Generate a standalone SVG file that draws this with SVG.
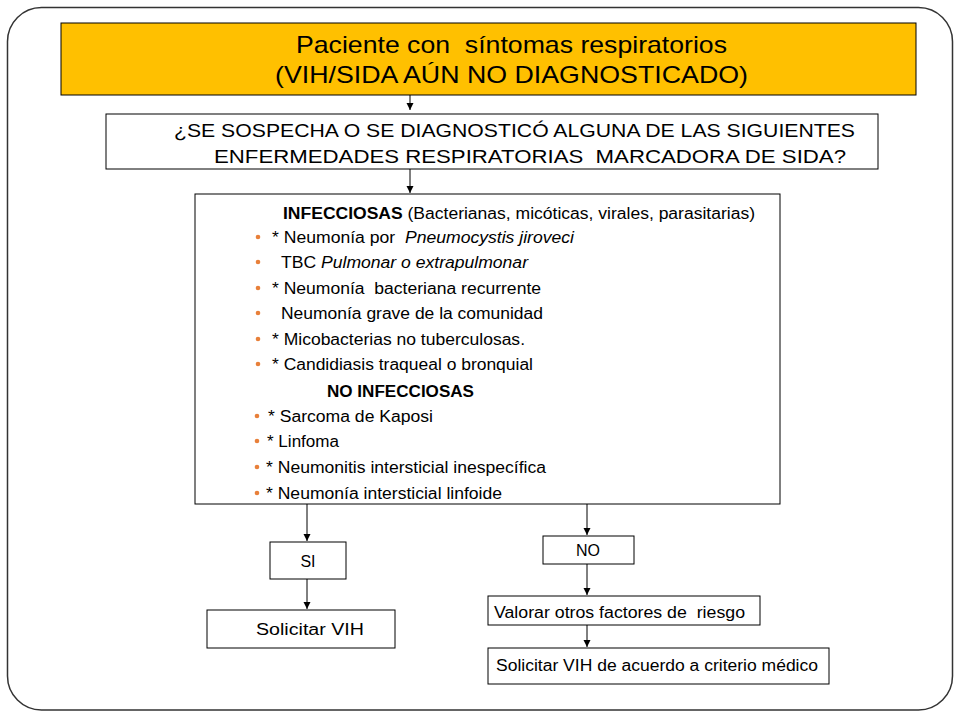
<svg xmlns="http://www.w3.org/2000/svg" width="960" height="720" viewBox="0 0 960 720">
<defs>
<marker id="ah" viewBox="0 0 10 10" refX="10" refY="5" markerWidth="7" markerHeight="9" markerUnits="userSpaceOnUse" orient="auto">
<path d="M0,0 L10,5 L0,10 Z" fill="#000"/>
</marker>
</defs>
<style>
text{font-family:"Liberation Sans",Arial,sans-serif;fill:#000;white-space:pre}
.box{fill:#fff;stroke:#000;stroke-width:1}
.t24{font-size:24px}
.t18{font-size:18px}
.t16{font-size:16px}
.b{font-weight:bold}
.i{font-style:italic}
.dot{fill:#E8803A}
.con line{stroke:#000;stroke-width:1;marker-end:url(#ah)}
</style>
<rect x="7.5" y="7.5" width="945" height="702.5" rx="34" ry="34" fill="#fff" stroke="#333" stroke-width="1.5"/>

<g id="n-paciente">
<rect x="61" y="23" width="855" height="72" fill="#FFC000" stroke="#000" stroke-width="1"/>
<text class="t24" x="296" y="53" textLength="431" lengthAdjust="spacingAndGlyphs">Paciente con  síntomas respiratorios</text>
<text class="t24" x="275" y="83" textLength="473" lengthAdjust="spacingAndGlyphs">(VIH/SIDA AÚN NO DIAGNOSTICADO)</text>
</g>

<g id="n-pregunta">
<rect class="box" x="106" y="114" width="772" height="55"/>
<text class="t18" x="174" y="137" textLength="681" lengthAdjust="spacingAndGlyphs">¿SE SOSPECHA O SE DIAGNOSTICÓ ALGUNA DE LAS SIGUIENTES</text>
<text class="t18" x="214" y="163" textLength="632" lengthAdjust="spacingAndGlyphs">ENFERMEDADES RESPIRATORIAS  MARCADORA DE SIDA?</text>
</g>

<g id="n-enfermedades">
<rect class="box" x="195" y="194" width="585" height="310"/>
<text class="t16" x="283" y="219" textLength="472" lengthAdjust="spacingAndGlyphs"><tspan class="b">INFECCIOSAS</tspan> (Bacterianas, micóticas, virales, parasitarias)</text>
<circle class="dot" cx="258" cy="237" r="2.3"/>
<text class="t16" x="272" y="243" textLength="302" lengthAdjust="spacingAndGlyphs">* Neumonía por  <tspan class="i">Pneumocystis jiroveci</tspan></text>
<circle class="dot" cx="258" cy="262" r="2.3"/>
<text class="t16" x="281" y="268" textLength="247" lengthAdjust="spacingAndGlyphs">TBC <tspan class="i">Pulmonar o extrapulmonar</tspan></text>
<circle class="dot" cx="258" cy="288" r="2.3"/>
<text class="t16" x="272" y="294" textLength="269" lengthAdjust="spacingAndGlyphs">* Neumonía  bacteriana recurrente</text>
<circle class="dot" cx="258" cy="313" r="2.3"/>
<text class="t16" x="281" y="319" textLength="262" lengthAdjust="spacingAndGlyphs">Neumonía grave de la comunidad</text>
<circle class="dot" cx="258" cy="339" r="2.3"/>
<text class="t16" x="272" y="345" textLength="253" lengthAdjust="spacingAndGlyphs">* Micobacterias no tuberculosas.</text>
<circle class="dot" cx="258" cy="364" r="2.3"/>
<text class="t16" x="272" y="370" textLength="261" lengthAdjust="spacingAndGlyphs">* Candidiasis traqueal o bronquial</text>
<text class="t16 b" x="327" y="397" textLength="147" lengthAdjust="spacingAndGlyphs">NO INFECCIOSAS</text>
<circle class="dot" cx="257" cy="416" r="2.3"/>
<text class="t16" x="268" y="422" textLength="165" lengthAdjust="spacingAndGlyphs">* Sarcoma de Kaposi</text>
<circle class="dot" cx="257" cy="441" r="2.3"/>
<text class="t16" x="267" y="447" textLength="72" lengthAdjust="spacingAndGlyphs">* Linfoma</text>
<circle class="dot" cx="257" cy="467" r="2.3"/>
<text class="t16" x="266" y="473" textLength="280" lengthAdjust="spacingAndGlyphs">* Neumonitis intersticial inespecífica</text>
<circle class="dot" cx="257" cy="493" r="2.3"/>
<text class="t16" x="266" y="499" textLength="236" lengthAdjust="spacingAndGlyphs">* Neumonía intersticial linfoide</text>
</g>

<g id="n-si">
<rect class="box" x="270" y="542" width="76" height="37"/>
<text class="t16" x="308" y="567" text-anchor="middle">SI</text>
</g>

<g id="n-solicitar">
<rect class="box" x="207" y="610" width="188" height="38"/>
<text class="t16" x="256" y="635" textLength="108" lengthAdjust="spacingAndGlyphs">Solicitar VIH</text>
</g>

<g id="n-no">
<rect class="box" x="543" y="536" width="91" height="28"/>
<text class="t16" x="588" y="556" text-anchor="middle">NO</text>
</g>

<g id="n-valorar">
<rect class="box" x="488" y="596" width="272" height="29"/>
<text class="t16" x="494" y="618" textLength="251" lengthAdjust="spacingAndGlyphs">Valorar otros factores de  riesgo</text>
</g>

<g id="n-criterio">
<rect class="box" x="488" y="648" width="341" height="36"/>
<text class="t16" x="496" y="671" textLength="322" lengthAdjust="spacingAndGlyphs">Solicitar VIH de acuerdo a criterio médico</text>
</g>

<g id="connectors" class="con">
<line x1="410" y1="95" x2="410" y2="110"/>
<line x1="410" y1="169" x2="410" y2="193"/>
<line x1="307" y1="504" x2="307" y2="541"/>
<line x1="307" y1="579" x2="307" y2="609"/>
<line x1="587" y1="504" x2="587" y2="535"/>
<line x1="587" y1="564" x2="587" y2="595"/>
<line x1="587" y1="625" x2="587" y2="647"/>
</g>
</svg>
